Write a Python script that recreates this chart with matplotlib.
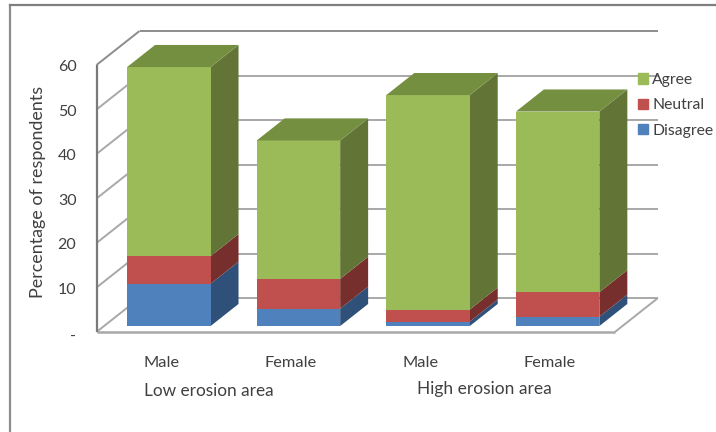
import matplotlib
matplotlib.use('Agg')
import matplotlib.pyplot as plt
from matplotlib.patches import Patch

plt.rcParams['font.family'] = ['Lato', 'DejaVu Sans']

# Values
genders = ['Male', 'Female', 'Male', 'Female']
areas = ['Low erosion area', 'High erosion area']
series_names = ['Disagree', 'Neutral', 'Agree']
disagree = [9.5, 3.9, 1.0, 2.1]
neutral = [6.2, 6.7, 2.7, 5.5]
agree = [42.5, 31.1, 48.2, 40.6]
y_ticks = [10, 20, 30, 40, 50, 60]

front_colors = ['#4f81bd', '#c0504d', '#9bbb59']
side_colors = ['#2f5078', '#772f2d', '#637536']
top_color = '#758f41'
grid_color = '#a8a8a8'
text_color = '#404040'

# Oblique projection: depth runs up and to the right
depth_x = 0.332
depth_y = 7.64
bar_width = 0.644
bar_front = 0.175
bar_back = 0.825


def proj(x, y, d=0.0):
    return x + d * depth_x, y + d * depth_y


def poly(ax, corners, color, z):
    xs = [c[0] for c in corners]
    ys = [c[1] for c in corners]
    ax.fill(xs, ys, color=color, lw=0, zorder=z)


def line(ax, a, b, color=grid_color, lw=1.4):
    ax.plot([a[0], b[0]], [a[1], b[1]], color=color, lw=lw, zorder=1,
            solid_capstyle='butt')


fig = plt.figure(figsize=(7.16, 4.32), dpi=100)
ax = fig.add_axes([0, 0, 1, 1])
ax.set_xlim(-96.5 / 129.6, (716 - 96.5) / 129.6)
ax.set_ylim(-100 / 4.45, 332 / 4.45)
ax.axis('off')

# Outer frame of the pasted chart
ax.plot([9.5 / 129.6 - 96.5 / 129.6] * 2, [-100 / 4.45, (332 - 5) / 4.45],
        color='#8c8c8c', lw=1.6)
ax.plot([9.5 / 129.6 - 96.5 / 129.6, 716 / 129.6], [(332 - 5) / 4.45] * 2,
        color='#7f7f7f', lw=1.6)

# Walls and floor
for t in y_ticks:
    wall_color = '#8c8c8c' if t == 60 else grid_color
    line(ax, proj(0, t), proj(0, t, 1), color=wall_color)
    line(ax, proj(0, t, 1), proj(4, t, 1), color=wall_color)
    ax.text(-0.155, t - 0.5, str(t), ha='right', va='center', fontsize=11.5, color=text_color)
line(ax, proj(0, 0, 1), proj(4, 0, 1))
line(ax, proj(0, 0), proj(0, 0, 1))
line(ax, proj(4, 0), proj(4, 0, 1))
line(ax, proj(0, 0), proj(4, 0), lw=1.8)
line(ax, proj(0, 0), proj(0, 60), color='#7a7a7a', lw=1.6)
ax.text(-0.155, -1.0, '-', ha='right', va='center', fontsize=11.5, color=text_color)

# Stacked boxes, back to front
for i in range(len(genders)):
    x0 = i + (1 - bar_width) / 2
    x1 = x0 + bar_width
    base = 0
    for k, vals in enumerate([disagree, neutral, agree]):
        top = base + vals[i]
        poly(ax, [proj(x1, base, bar_front), proj(x1, base, bar_back),
                  proj(x1, top, bar_back), proj(x1, top, bar_front)], side_colors[k], 3)
        poly(ax, [proj(x0, base, bar_front), proj(x1, base, bar_front),
                  proj(x1, top, bar_front), proj(x0, top, bar_front)], front_colors[k], 3)
        base = top
    poly(ax, [proj(x0, base, bar_front), proj(x1, base, bar_front),
              proj(x1, base, bar_back), proj(x0, base, bar_back)], top_color, 3)
    ax.text(i + 0.5, -7.0, genders[i], ha='center', va='center', fontsize=11.8, color=text_color)

ax.text(0.87, -13.2, areas[0], ha='center', va='center', fontsize=12.4, color=text_color)
ax.text(2.995, -12.7, areas[1], ha='center', va='center', fontsize=12.5, color=text_color)
ax.text(-0.45, 31.5, 'Percentage of respondents', rotation=90, ha='center', va='center',
        fontsize=12.9, color=text_color)

handles = [Patch(color=front_colors[k], label=series_names[k]) for k in [2, 1, 0]]
fig.legend(handles=handles, loc='upper left', bbox_to_anchor=(638 / 716, 1 - 73 / 432),
           frameon=False, fontsize=11.3, handlelength=0.65, handleheight=0.65,
           handletextpad=0.25, labelspacing=0.72, borderpad=0, borderaxespad=0,
           labelcolor=text_color)

fig.savefig('out.png', dpi=100)
